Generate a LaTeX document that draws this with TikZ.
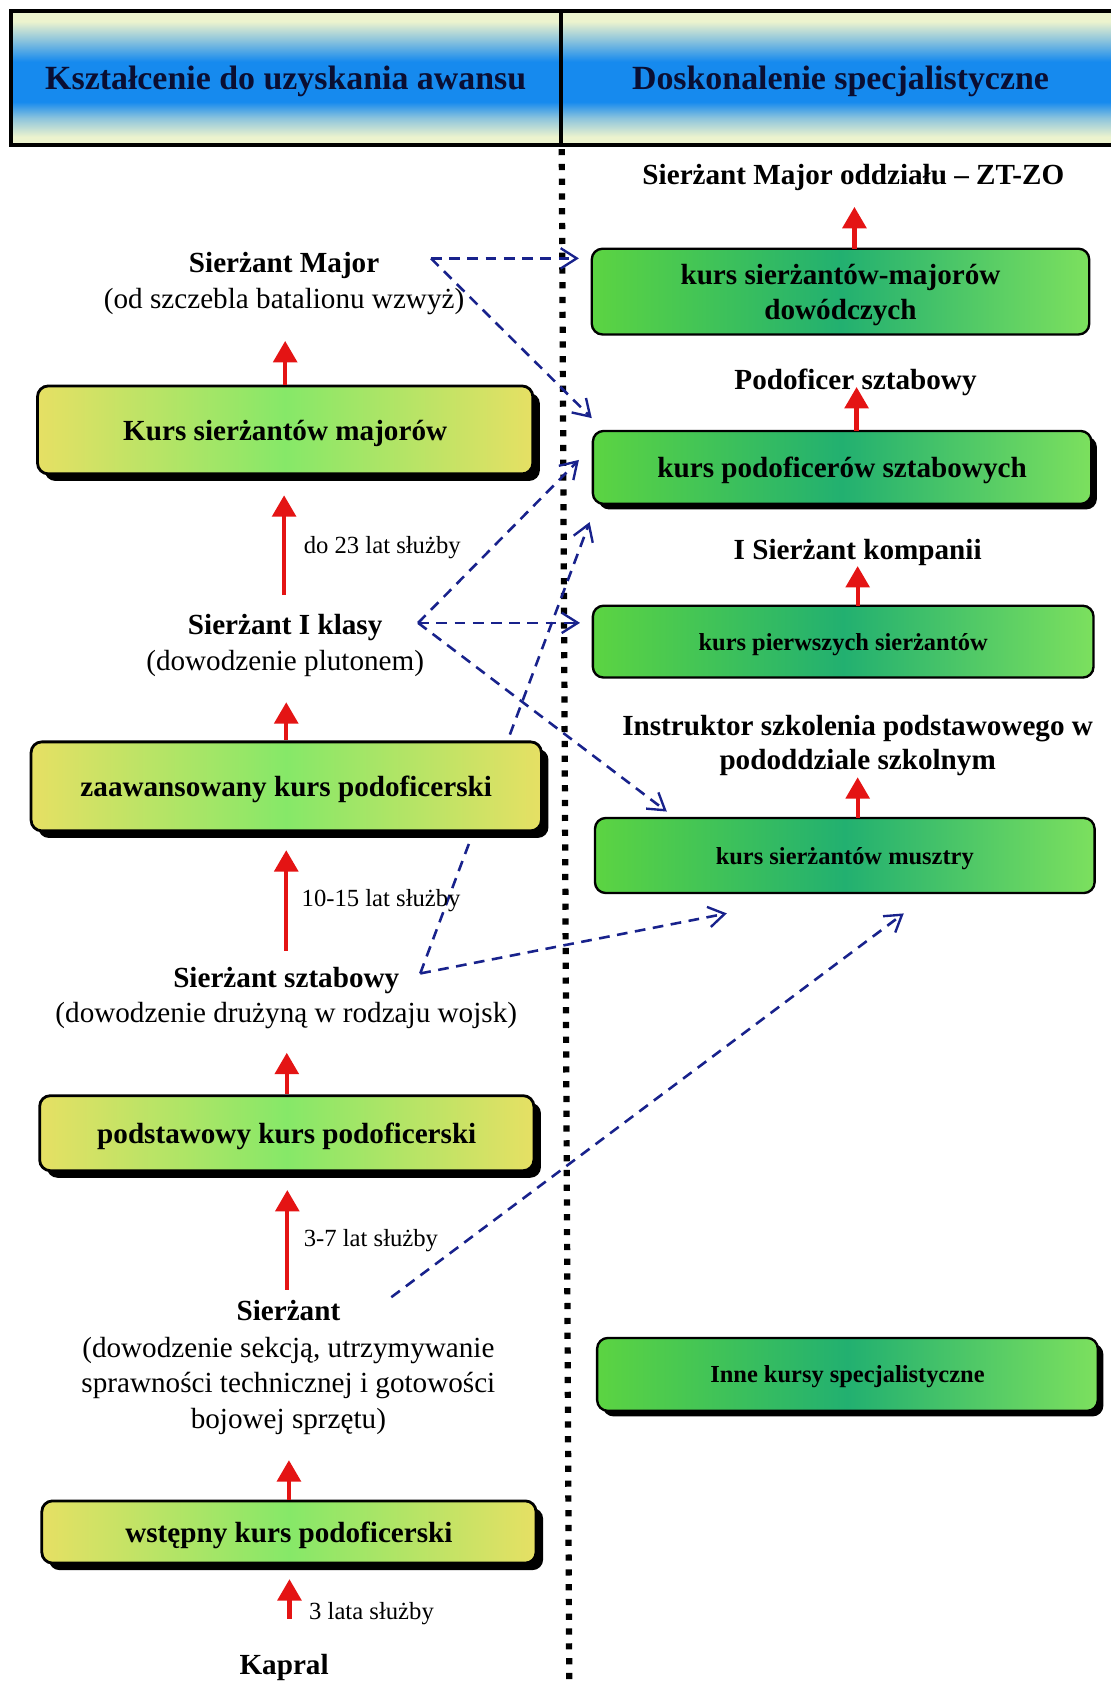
\documentclass[tikz,border=0pt]{standalone}
\usepackage{fontspec}
\setmainfont{Liberation Serif}
\usetikzlibrary{arrows.meta,shadows}

\definecolor{redar}{RGB}{228,20,20}
\definecolor{navy}{RGB}{24,34,140}
\definecolor{hdrpale}{RGB}{236,243,206}
\definecolor{hdrblue}{RGB}{22,138,238}
\colorlet{hdrmid}{hdrblue!45!hdrpale}
\definecolor{hdrtext}{RGB}{10,14,50}
\definecolor{ylw}{RGB}{230,224,100}
\definecolor{ylwgrn}{RGB}{134,232,104}
\definecolor{grnL}{RGB}{92,212,66}
\definecolor{grnM}{RGB}{34,176,112}
\definecolor{grnR}{RGB}{124,224,94}

\pgfdeclareverticalshading{hdrshade}{100bp}{color(0bp)=(hdrpale); color(28bp)=(hdrpale); color(35bp)=(hdrmid); color(41bp)=(hdrblue); color(56bp)=(hdrblue); color(64bp)=(hdrmid); color(71bp)=(hdrpale); color(100bp)=(hdrpale)}

\tikzset{
  lbl/.style={inner sep=0pt, anchor=base, font=\fontsize{13.6}{16.3}\selectfont},
  lblb/.style={inner sep=0pt, anchor=base, font=\fontsize{13.6}{16.3}\selectfont\bfseries},
  yrs/.style={inner sep=0pt, anchor=base west, font=\fontsize{11.5}{13.8}\selectfont},
  hdrcell/.style={draw=black, line width=2pt, shade, shading=hdrshade, inner sep=0pt,
    minimum height=62.5pt, text=hdrtext, text height=11pt, text depth=0pt,
    font=\fontsize{15.8}{19}\selectfont\bfseries},
  ybox/.style={draw=black, line width=1.3pt, rounded corners=5pt, inner sep=0pt,
    left color=ylw, right color=ylw, middle color=ylwgrn,
    text height=9.5pt, text depth=0pt,
    font=\fontsize{13.6}{16.3}\selectfont\bfseries,
    drop shadow={shadow xshift=3.3pt, shadow yshift=-3.3pt, opacity=1, fill=black}},
  gbox/.style={draw=black, line width=1.1pt, rounded corners=5pt, inner sep=0pt, align=center,
    left color=grnL, right color=grnR, middle color=grnM,
    font=\fontsize{13.6}{16.3}\selectfont\bfseries},
  gline/.style={gbox, text height=9.5pt, text depth=0pt},
  gsmall/.style={gbox, text height=8pt, text depth=0pt,
    font=\fontsize{11.4}{13.7}\selectfont\bfseries},
  gshadow/.style={drop shadow={shadow xshift=2.6pt, shadow yshift=-2.6pt, opacity=1, fill=black}},
  uparrow/.style={draw=redar, line width=2pt, -{Triangle[length=10pt, width=11pt]}},
  link/.style={draw=navy, line width=1.2pt, dash pattern=on 5pt off 3.5pt,
    -{Straight Barb[length=7.5pt, width=9.5pt, line width=1.1pt]}},
  divider/.style={draw=black, line width=2.9pt, dash pattern=on 2.9pt off 4pt}
}

\begin{document}
\begin{tikzpicture}[x=0.5pt, y=-0.5pt]
\useasboundingbox (0,0) rectangle (1036,1568);
\fill[white] (0,0) rectangle (1036,1568);

% ---------- column headers ----------
\node[hdrcell, minimum width=256.5pt] (hdrL) at (266.5,72.5) {Kształcenie do uzyskania awansu};
\node[hdrcell, minimum width=261pt] (hdrR) at (784,72.5) {Doskonalenie specjalistyczne};

% ---------- column separator ----------
\coordinate (dotTop) at (524,139);
\coordinate (dotBot) at (531,1572);
\draw[divider] (dotTop) -- (dotBot);

% ---------- links between the columns (drawn under the boxes) ----------
\coordinate (pM) at (402,241);
\coordinate (pI) at (390,581);
\coordinate (pS) at (392,908);
\coordinate (p0) at (365,1210);
\coordinate (eM1) at (540,241);
\coordinate (eM2) at (552,390);
\coordinate (eI1) at (540,429);
\coordinate (eI2) at (541,581);
\coordinate (eI3) at (622,757);
\coordinate (eS1) at (550,487);
\coordinate (eS2) at (678,852);
\coordinate (e01) at (843,852);
\draw[link] (pM) -- (eM1);
\draw[link] (pM) -- (eM2);
\draw[link] (pI) -- (eI1);
\draw[link] (pI) -- (eI2);
\draw[link] (pI) -- (eI3);
\draw[link] (pS) -- (eS1);
\draw[link] (pS) -- (eS2);
\draw[link] (p0) -- (e01);

% ---------- left column: promotion path ----------
\node[lblb] (smA) at (265,254) {Sierżant Major};
\node[lbl]  (smB) at (265,288) {(od szczebla batalionu wzwyż)};

\node[ybox, minimum width=231pt, minimum height=41pt] (B1) at (266,401) {Kurs sierżantów majorów};

\node[lblb] (s1A) at (266,592) {Sierżant I klasy};
\node[lbl]  (s1B) at (266,625) {(dowodzenie plutonem)};

\node[ybox, minimum width=238pt, minimum height=41.5pt] (B2) at (267,733.5) {zaawansowany kurs podoficerski};

\node[lblb] (ssA) at (267,921) {Sierżant sztabowy};
\node[lbl]  (ssB) at (267,954) {(dowodzenie drużyną w rodzaju wojsk)};

\node[ybox, minimum width=230.5pt, minimum height=35pt] (B3) at (267.5,1057) {podstawowy kurs podoficerski};

\node[lblb] (s0A) at (269,1232) {Sierżant};
\node[lbl]  (s0B) at (269,1266) {(dowodzenie sekcją, utrzymywanie};
\node[lbl]  (s0C) at (269,1299) {sprawności technicznej i gotowości};
\node[lbl]  (s0D) at (269,1332) {bojowej sprzętu)};

\node[ybox, minimum width=230.5pt, minimum height=29pt] (B4) at (269.5,1429) {wstępny kurs podoficerski};

\node[lblb] (kap) at (265,1562) {Kapral};

% years of service
\node[yrs] (y1) at (283,516) {do 23 lat służby};
\node[yrs] (y2) at (281,846) {10-15 lat służby};
\node[yrs] (y3) at (283,1163) {3-7 lat służby};
\node[yrs] (y4) at (288,1511) {3 lata służby};

% red promotion arrows, left
\coordinate (tA1) at (266,318);
\coordinate (fA2) at (265,555);
\coordinate (tA2) at (265,462);
\coordinate (tA3) at (267,655);
\coordinate (fA4) at (267,887);
\coordinate (tA4) at (267,793);
\coordinate (tA5) at (267.5,982);
\coordinate (fA6) at (268,1203);
\coordinate (tA6) at (268,1110);
\coordinate (tA7) at (269.5,1362);
\coordinate (fA8) at (270,1510);
\coordinate (tA8) at (270,1473);
\draw[uparrow] (B1.north) -- (tA1);
\draw[uparrow] (fA2) -- (tA2);
\draw[uparrow] (B2.north) -- (tA3);
\draw[uparrow] (fA4) -- (tA4);
\draw[uparrow] (B3.north) -- (tA5);
\draw[uparrow] (fA6) -- (tA6);
\draw[uparrow] (B4.north) -- (tA7);
\draw[uparrow] (fA8) -- (tA8);

% ---------- right column: specialist courses ----------
\node[lblb] (rt1) at (796,172) {Sierżant Major oddziału – ZT-ZO};
\node[gbox, text depth=0pt, minimum width=232pt, minimum height=40pt] (G1) at (784,272) {kurs sierżantów-majorów\\dowódczych};

\node[lblb] (rt2) at (798,363) {Podoficer sztabowy};
\node[gline, gshadow, minimum width=232.5pt, minimum height=34pt] (G2) at (785.5,436) {kurs podoficerów sztabowych};

\node[lblb] (rt3) at (800,522) {I Sierżant kompanii};
\node[gsmall, minimum width=233.5pt, minimum height=33.5pt] (G3) at (786.5,598.5) {kurs pierwszych sierżantów};

\node[lblb] (rt4A) at (800,686) {Instruktor szkolenia podstawowego w};
\node[lblb] (rt4B) at (800,718) {pododdziale szkolnym};
\node[gsmall, minimum width=233pt, minimum height=35pt] (G4) at (788,798) {kurs sierżantów musztry};

\node[gsmall, gshadow, minimum width=233.5pt, minimum height=34pt] (G5) at (790.5,1282) {Inne kursy specjalistyczne};

% red promotion arrows, right
\coordinate (fR1) at (797,232);
\coordinate (tR1) at (797,193);
\coordinate (fR2) at (799,402);
\coordinate (tR2) at (799,361);
\coordinate (fR3) at (800,565);
\coordinate (tR3) at (800,528);
\coordinate (fR4) at (800,763);
\coordinate (tR4) at (800,725);
\draw[uparrow] (fR1) -- (tR1);
\draw[uparrow] (fR2) -- (tR2);
\draw[uparrow] (fR3) -- (tR3);
\draw[uparrow] (fR4) -- (tR4);
\end{tikzpicture}
\end{document}
